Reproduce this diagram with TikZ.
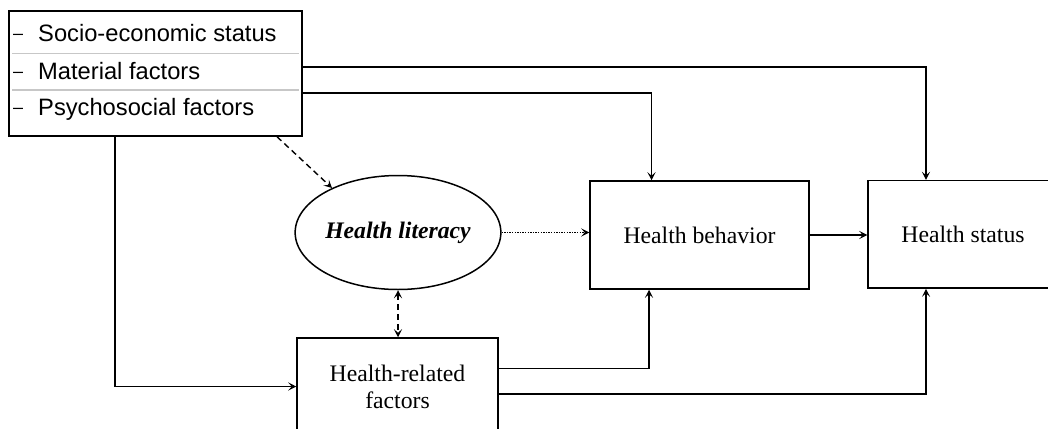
\documentclass[tikz,border=0pt]{standalone}
\usepackage{fontspec}
\setmainfont{Liberation Serif}
\newfontfamily\arialfont{Liberation Sans}
\usetikzlibrary{arrows.meta,shapes.geometric}

\begin{document}
\begin{tikzpicture}[x=1pt,y=-1pt,
  every node/.style={font=\fontsize{23.7}{27}\selectfont},
  box/.style={draw, line width=1.5pt, rectangle, inner sep=0pt},
  listline/.style={anchor=base west, inner sep=0pt, font=\arialfont\fontsize{23.7}{27}\selectfont},
  sepline/.style={draw=black!22, line width=1.3pt},
  arr/.style={line width=1.4pt, -{Stealth[length=8pt,width=8pt,inset=3.5pt]}},
  twoarr/.style={line width=1.4pt, {Stealth[length=8pt,width=8pt,inset=3.5pt]}-{Stealth[length=8pt,width=8pt,inset=3.5pt]}},
  dashline/.style={dash pattern=on 6pt off 4pt},
  dotline/.style={dash pattern=on 1.3pt off 1.3pt}
]
\useasboundingbox (0,0) rectangle (1048,428);

% determinants box with its three entries
\node[box, minimum width=293pt, minimum height=125pt] (src) at (155.5,73.5) {};
\newcommand{\itemdash}{\raisebox{1.6pt}{\fontsize{18}{18}\selectfont –}\hspace{15pt}}
\node[listline] (ses) at (13,41.5) {\itemdash Socio-economic status};
\node[listline] (mat) at (13,79) {\itemdash Material factors};
\node[listline] (psy) at (13,115) {\itemdash Psychosocial factors};
\draw[sepline] (12,53.3) -- (299,53.3);
\draw[sepline] (12,90) -- (299,90);

% main nodes
\node[draw, line width=1.5pt, ellipse, minimum width=200pt, minimum height=114pt, inner sep=0pt,
      font=\fontsize{23.7}{27}\selectfont\bfseries\itshape] (hl) at (398,232.5) {Health literacy};
\node[box, minimum width=219pt, minimum height=108pt] (hb) at (699.5,235) {Health behavior};
\node[box, minimum width=190pt, minimum height=107.5pt] (hs) at (963,234.3) {Health status};
\node[box, minimum width=201pt, minimum height=97pt, align=center] (hrf) at (397.5,386.5) {Health-related\\factors};

% connectors
\draw[arr] ([xshift=-40.5pt]src.south) |- (hrf.west);
\draw[arr] ([yshift=6.5pt]src.east) -| ([xshift=-37pt]hs.north);
\draw[arr] ([yshift=-19.5pt]src.east) -| ([xshift=-48pt]hb.north);
\draw[arr, dashline] ([xshift=121.5pt]src.south) -- (hl.146);
\draw[arr, dotline] (hl.east) -- (hl.east -| hb.west);
\draw[arr] (hb.east) -- (hb.east -| hs.west);
\draw[twoarr, dashline] (hl.south) -- (hl.south |- hrf.north);
\draw[arr] ([yshift=18.2pt]hrf.east) -| ([xshift=-50.5pt]hb.south);
\draw[arr] ([yshift=-7.5pt]hrf.east) -| ([xshift=-37pt]hs.south);
\end{tikzpicture}
\end{document}
